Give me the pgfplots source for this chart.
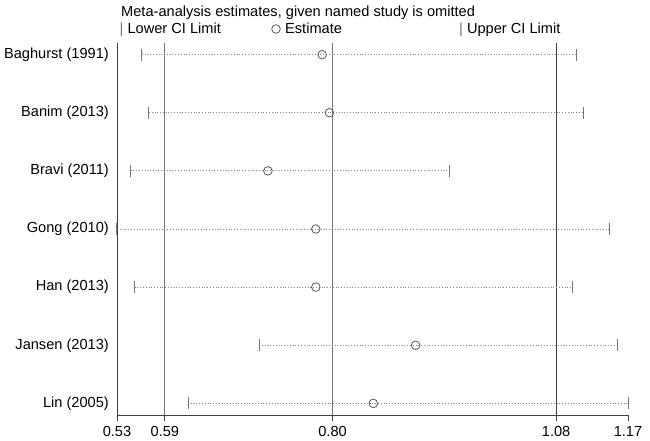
\documentclass[border=0pt]{standalone}
\usepackage{fontspec}
\setmainfont{Liberation Sans}
\usepackage{pgfplots}
\usepackage{pgfplotstable}
\pgfplotsset{compat=1.18}

\definecolor{axisgray}{HTML}{404040}
\definecolor{refgray}{HTML}{767676}
\definecolor{dotgray}{HTML}{808080}
\definecolor{markgray}{HTML}{5A5A5A}

% leave-one-out estimates: row, lower CI, estimate, upper CI
\pgfplotstableread{
row lo est hi
1 0.561 0.787 1.105
2 0.570 0.796 1.114
3 0.547 0.719 0.946
4 0.530 0.779 1.147
5 0.552 0.779 1.100
6 0.708 0.904 1.157
7 0.619 0.851 1.170
}\loo

\newcommand{\fs}{\fontsize{14.6bp}{17bp}\selectfont}

\begin{document}
\begin{tikzpicture}
\begin{axis}[
  scale only axis,
  width=511bp, height=372bp,
  xmin=0.53, xmax=1.17,
  ymin=0.8, ymax=7.2,
  y dir=reverse,
  axis x line=bottom, axis y line=left,
  axis line style={-, axisgray, line width=0.9bp},
  clip=false,
  font=\fs,
  xtick={0.53,0.59,0.80,1.08,1.17},
  xticklabels={0.53,0.59,0.80,1.08,1.17},
  ytick={1,2,3,4,5,6,7},
  yticklabels={Baghurst (1991),Banim (2013),Bravi (2011),Gong (2010),Han (2013),Jansen (2013),Lin (2005)},
  tick align=outside,
  major tick length=6bp,
  x tick style={axisgray, line width=0.9bp},
  y tick style={draw=none},
  xticklabel style={anchor=base, inner sep=0pt, text=black, yshift=-15bp},
  yticklabel style={anchor=east, inner sep=0pt, text=black, xshift=-2bp},
]
% overall estimate and its CI
\addplot[refgray, line width=0.9bp] coordinates {(0.59,0.8)(0.59,7.2)};
\addplot[refgray, line width=0.9bp] coordinates {(0.80,0.8)(0.80,7.2)};
\addplot[axisgray, line width=0.9bp] coordinates {(1.08,0.8)(1.08,7.2)};
% dotted CI spans, from lower to upper limit
\addplot[draw=none, mark=none,
  error bars/.cd, x dir=plus, x explicit,
  error mark=none,
  error bar style={draw=dotgray, line width=0.8bp, dotted}]
  table[x=lo, y=row,
    x error expr=\thisrow{hi}-\thisrow{lo}] {\loo};
% CI ends
\addplot[only marks, mark=|, mark size=6bp, mark options={refgray, line width=1bp}]
  table[x=lo, y=row] {\loo};
\addplot[only marks, mark=|, mark size=6bp, mark options={refgray, line width=1bp}]
  table[x=hi, y=row] {\loo};
% estimates
\addplot[only marks, mark=o, mark size=4.3bp, mark options={markgray, line width=0.8bp}]
  table[x=est, y=row] {\loo};
\end{axis}

\node[anchor=base west, inner sep=0pt, font=\fs] at ([shift={(4bp,26.5bp)}]current axis.north west)
  {Meta-analysis estimates, given named study is omitted};
\node[anchor=base west, inner sep=0pt, font=\fs] at ([shift={(2.5bp,9bp)}]current axis.north west)
  {\textcolor{refgray}{|} Lower CI Limit};
\node[circle, draw=markgray, line width=0.8bp, inner sep=0pt, minimum size=8.6bp]
  at ([shift={(159bp,14bp)}]current axis.north west) {};
\node[anchor=base west, inner sep=0pt, font=\fs] at ([shift={(168bp,9bp)}]current axis.north west)
  {Estimate};
\node[anchor=base west, inner sep=0pt, font=\fs] at ([shift={(342bp,9bp)}]current axis.north west)
  {\textcolor{refgray}{|} Upper CI Limit};

\pgfresetboundingbox
\path ([shift={(-117bp,-26bp)}]current axis.south west) rectangle ([shift={(22bp,43bp)}]current axis.north east);
\end{tikzpicture}
\end{document}
